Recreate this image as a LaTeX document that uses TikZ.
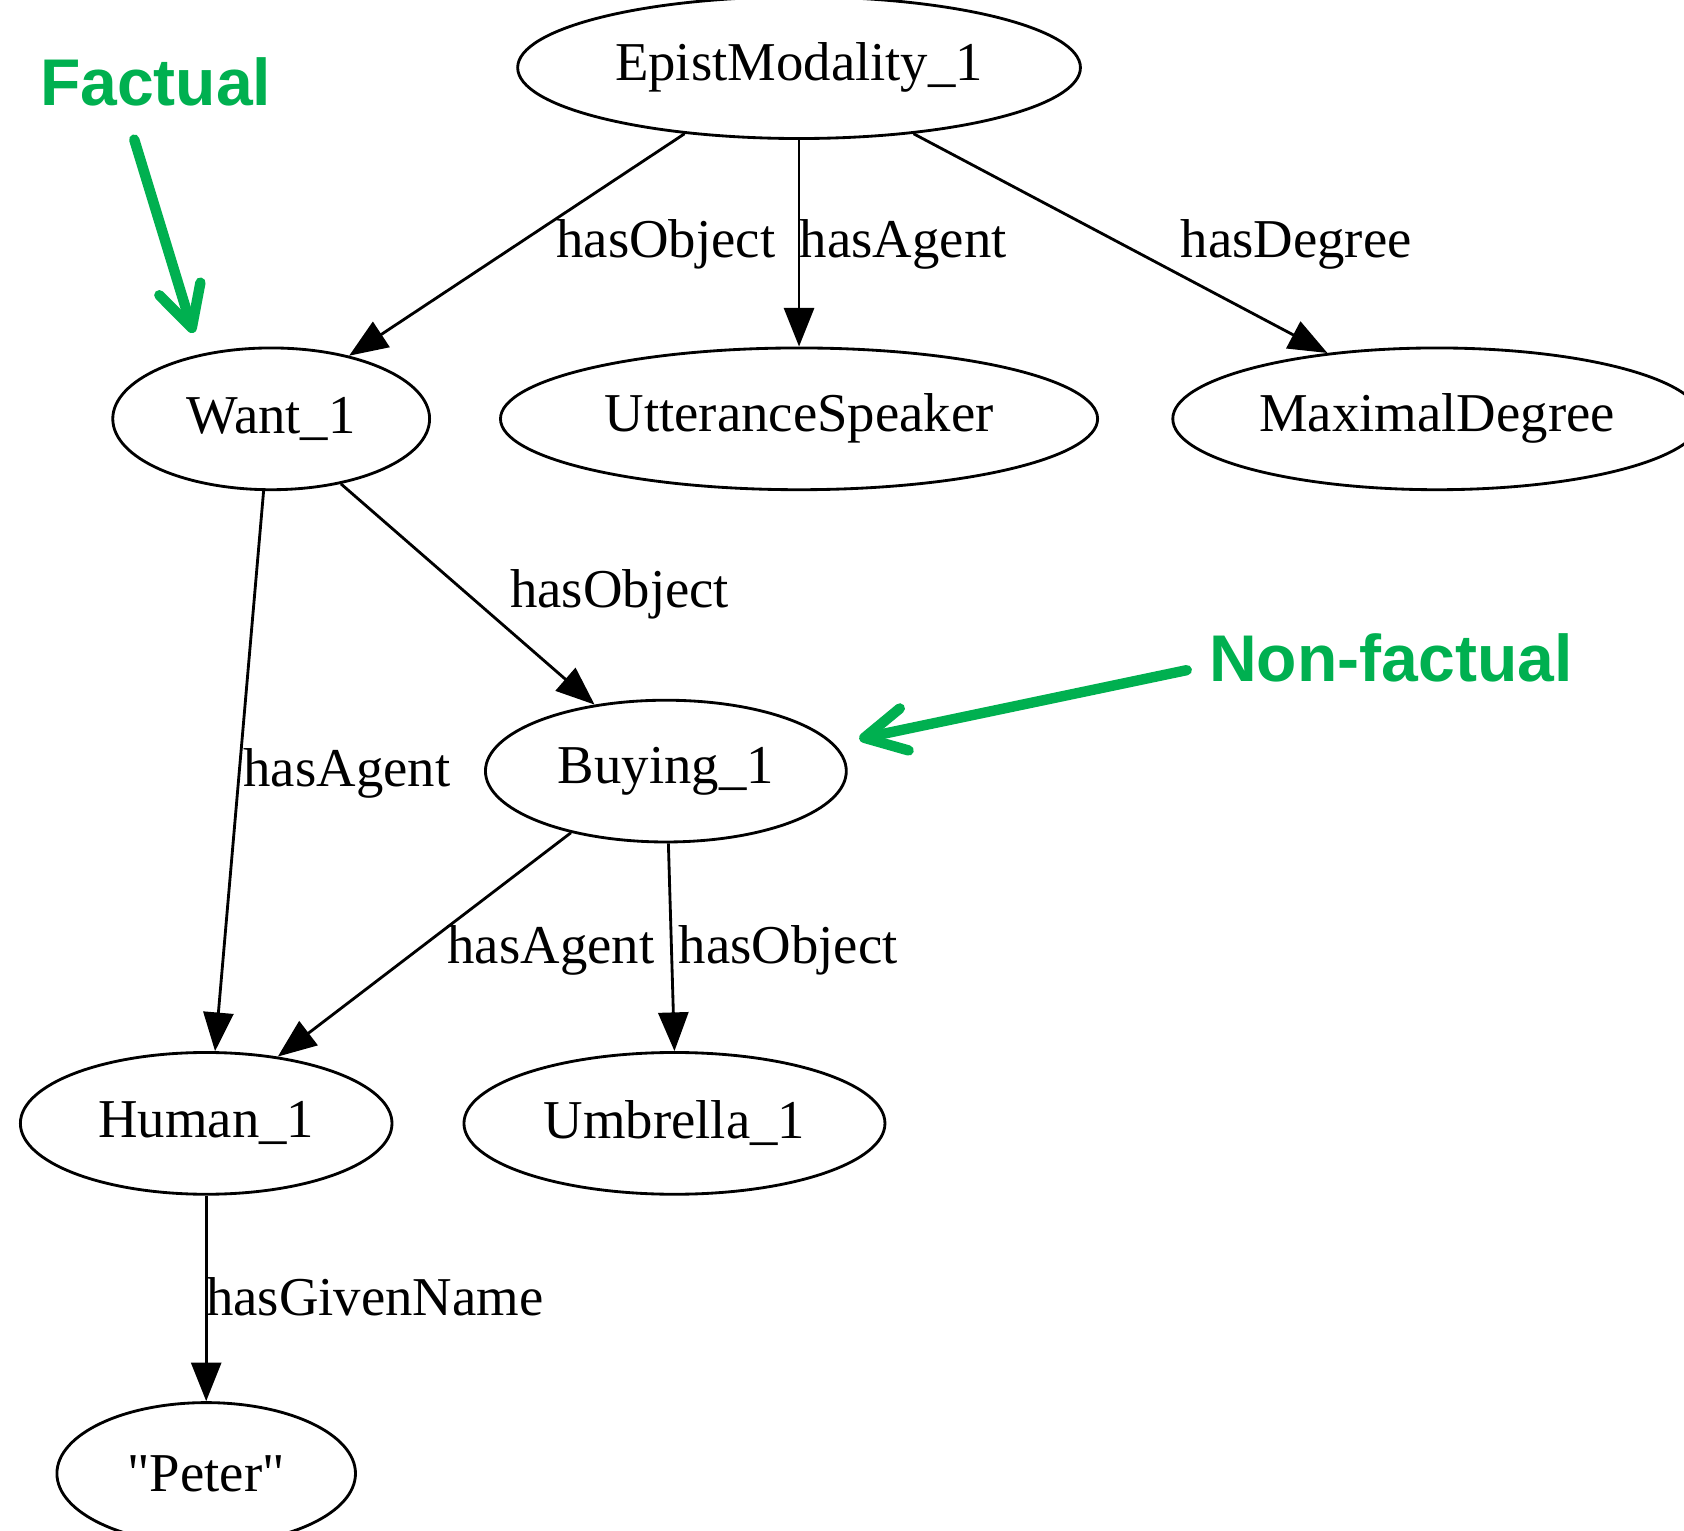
\documentclass[tikz,border=0pt]{standalone}
\usepackage{fontspec}
\setmainfont{Liberation Serif}[Ligatures=TeXOff]
\newfontfamily\notefont{Liberation Sans}
\usetikzlibrary{shapes.geometric, arrows.meta}
\definecolor{notegreen}{RGB}{0,176,80}

\begin{document}
\begin{tikzpicture}[
        concept/.style={ellipse, draw, line width=1.5pt, inner sep=0pt, minimum height=2.64cm, font=\fontsize{29}{34}\selectfont},
        rel/.style={-{Triangle[length=0.72cm, width=0.56cm]}, line width=1.5pt},
        rellabel/.style={anchor=base, inner sep=0pt, font=\fontsize{29}{34}\selectfont},
        note/.style={anchor=base, inner sep=0pt, text=notegreen, font=\notefont\bfseries\fontsize{35}{42}\selectfont},
        pointer/.style={draw=notegreen, line width=5.5pt, line cap=round, -{Straight Barb[length=0.76cm, width=0.8cm, round]}}
    ]
        \clip (0,0) rectangle (31.36,28.5);

        % Vertices
        \node[concept, minimum width=10.48cm] (epist) at (14.88,27.24) {EpistModality\_1};
        \node[concept, minimum width=5.9cm] (want) at (5.05,20.7) {Want\_1};
        \node[concept, minimum width=11.12cm] (speaker) at (14.88,20.7) {UtteranceSpeaker};
        \node[concept, minimum width=9.84cm] (maxdeg) at (26.76,20.7) {MaximalDegree};
        \node[concept, minimum width=6.72cm] (buying) at (12.4,14.14) {Buying\_1};
        \node[concept, minimum width=6.92cm] (human) at (3.84,7.58) {Human\_1};
        \node[concept, minimum width=7.84cm] (umbrella) at (12.56,7.58) {Umbrella\_1};
        \node[concept, minimum width=5.56cm] (peter) at (3.84,1.06) {"Peter"};

        % Edges
        \draw[rel] (epist.210) -- (want.39);
        \draw[rel] (epist.south) -- (speaker.north);
        \draw[rel] (epist.330) -- (maxdeg.149);
        \draw[rel] (want.317) -- (buying.137);
        \draw[rel] (want.264) -- (human.83);
        \draw[rel] (buying.213) -- (human.43);
        \draw[rel] (buying.-88) -- (umbrella.north);
        \draw[rel] (human.south) -- (peter.north);

        % Edge labels
        \node[rellabel] (l-epist-want) at (12.4,23.7) {hasObject};
        \node[rellabel] (l-epist-speaker) at (16.82,23.7) {hasAgent};
        \node[rellabel] (l-epist-maxdeg) at (24.14,23.7) {hasDegree};
        \node[rellabel] (l-want-buying) at (11.54,17.18) {hasObject};
        \node[rellabel] (l-want-human) at (6.46,13.86) {hasAgent};
        \node[rellabel] (l-buying-human) at (10.26,10.56) {hasAgent};
        \node[rellabel] (l-buying-umbrella) at (14.68,10.56) {hasObject};
        \node[rellabel] (l-human-peter) at (6.98,4.0) {hasGivenName};

        % Notes
        \node[note] (factual) at (2.9,26.54) {Factual};
        \node[note] (nonfactual) at (25.9,15.8) {Non-factual};
        \coordinate (factualtail) at (2.5,25.9);
        \coordinate (factualtip) at (3.6,22.3);
        \coordinate (nonfactualtail) at (22.1,16.02);
        \coordinate (nonfactualtip) at (16.0,14.74);
        \draw[pointer] (factualtail) -- (factualtip);
        \draw[pointer] (nonfactualtail) -- (nonfactualtip);
    \end{tikzpicture}
\end{document}
